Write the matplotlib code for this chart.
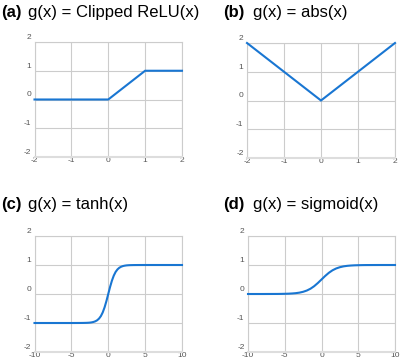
import matplotlib
matplotlib.use("Agg")
import matplotlib.pyplot as plt
import matplotlib.transforms as mtransforms

plt.rcParams['font.family'] = ['Liberation Sans', 'DejaVu Sans']

# ---- data ----
relu_x = [-2, 0, 1, 2]
relu_y = [0, 0, 1, 1]

abs_x = [-2, 0, 2]
abs_y = [2, 0, 2]

tanh_x = [-10, -8, -6, -5, -4, -3.5, -3, -2.75, -2.5, -2.25, -2, -1.75, -1.5, -1.25,
          -1, -0.75, -0.5, -0.25, 0, 0.25, 0.5, 0.75, 1, 1.25, 1.5, 1.75, 2, 2.25,
          2.5, 2.75, 3, 3.5, 4, 5, 6, 8, 10]
tanh_y = [-1.0, -1.0, -1.0, -1.0, -0.999, -0.998, -0.995, -0.992, -0.987, -0.978,
          -0.964, -0.941, -0.905, -0.848, -0.762, -0.635, -0.462, -0.245, 0.0,
          0.245, 0.462, 0.635, 0.762, 0.848, 0.905, 0.941, 0.964, 0.978, 0.987,
          0.992, 0.995, 0.998, 0.999, 1.0, 1.0, 1.0, 1.0]

sig_x = [-10, -9, -8, -7, -6, -5.5, -5, -4.5, -4, -3.5, -3, -2.5, -2, -1.5, -1,
         -0.5, 0, 0.5, 1, 1.5, 2, 2.5, 3, 3.5, 4, 4.5, 5, 5.5, 6, 7, 8, 9, 10]
sig_y = [0.0, 0.0, 0.0, 0.001, 0.002, 0.004, 0.007, 0.011, 0.018, 0.029, 0.047,
         0.076, 0.119, 0.182, 0.269, 0.378, 0.5, 0.622, 0.731, 0.818, 0.881,
         0.924, 0.953, 0.971, 0.982, 0.989, 0.993, 0.996, 0.998, 0.999, 1.0,
         1.0, 1.0]

yticks = [-2, -1, 0, 1, 2]
xticks_small = [-2, -1, 0, 1, 2]
xticks_large = [-10, -5, 0, 5, 10]

panels = [
    ("(a)", "g(x) = Clipped ReLU(x)", relu_x, relu_y, xticks_small),
    ("(b)", "g(x) = abs(x)", abs_x, abs_y, xticks_small),
    ("(c)", "g(x) = tanh(x)", tanh_x, tanh_y, xticks_large),
    ("(d)", "g(x) = sigmoid(x)", sig_x, sig_y, xticks_large),
]

W, H = 400, 363
fig = plt.figure(figsize=(W / 100, H / 100), dpi=100)

# axes boxes in pixels: left, top, right, bottom
boxes = [(34.5, 42, 182, 157), (247, 43, 395, 158), (34.5, 236, 182, 352), (248, 236, 395, 352)]
# title positions: x of label, x of text, baseline y
titles = [(1, 28, 17), (223, 253, 17), (1, 28, 209), (223, 253, 209)]

line_color = '#1976d2'
grid_color = '#cccccc'
tick_color = '#555555'

for (lab, txt, xs, ys, xt), (l, t, r, b), (tx1, tx2, ty) in zip(panels, boxes, titles):
    ax = fig.add_axes([l / W, 1 - b / H, (r - l) / W, (b - t) / H])
    ax.plot(xs, ys, color=line_color, lw=1.5, solid_joinstyle='miter', zorder=3, clip_on=False)
    ax.set_xlim(xt[0], xt[-1])
    ax.set_ylim(-2, 2)
    ax.set_xticks(xt)
    ax.set_yticks(yticks)
    ax.set_xticklabels([str(v) for v in xt])
    ax.set_yticklabels([str(v) for v in yticks])
    ax.grid(True, color=grid_color, lw=0.8)
    ax.set_axisbelow(True)
    for s in ax.spines.values():
        s.set_color(grid_color)
        s.set_linewidth(0.8)
    ax.spines['bottom'].set_color('#dddddd')
    ax.spines['bottom'].set_linewidth(1.5)
    ax.tick_params(length=0, labelsize=6, colors=tick_color, pad=1)
    ax.tick_params(axis='x', pad=0.3)
    ax.tick_params(axis='y', pad=2.5)
    off = mtransforms.ScaledTranslation(0, 4 / 72, fig.dpi_scale_trans)
    for lbl in ax.get_yticklabels():
        lbl.set_transform(lbl.get_transform() + off)
    fig.text(tx1 / W, 1 - ty / H, lab, fontsize=12, fontweight='bold', va='baseline', ha='left')
    fig.text(tx2 / W, 1 - ty / H, txt, fontsize=12, va='baseline', ha='left')

fig.savefig('out.png', dpi=100)
